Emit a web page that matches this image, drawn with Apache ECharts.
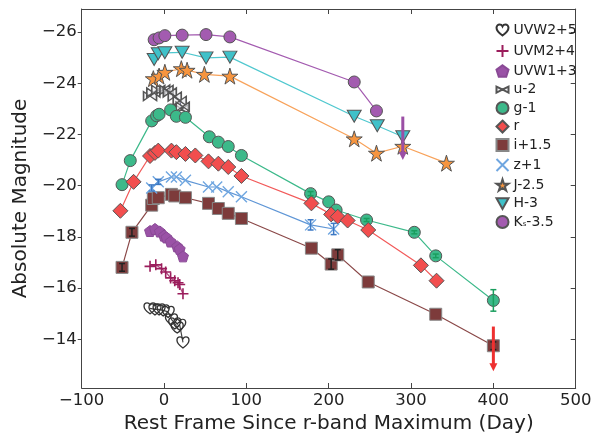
<!DOCTYPE html>
<html><head><meta charset="utf-8">
<script src="https://cdn.jsdelivr.net/npm/echarts@6/dist/echarts.min.js"></script>
<style>html,body{margin:0;padding:0;background:#fff}#c{width:615px;height:439px}</style>
</head><body><div id="c"></div>
<script>
// ---- data (rest-frame days since r-band maximum, absolute magnitude incl. offsets) ----
const uvw2Days = [-17,-11,-6,-1,5,9,13,16,19,23];
const uvw2Mag  = [-15.21,-15.17,-15.17,-15.13,-15.07,-14.78,-14.62,-14.46,-14.57,-13.88];
const uvm2Days = [-17,-10,-3,2,8,13,17,19,23];
const uvm2Mag  = [-16.85,-16.91,-16.76,-16.63,-16.40,-16.29,-16.21,-16.14,-15.78];
const uvw1Days = [-17,-11,-5,0,3,8,16,19,23];
const uvw1Mag  = [-18.23,-18.31,-18.21,-18.05,-17.98,-17.82,-17.63,-17.53,-17.24];
const uDays = [-17,-13,-7,-1,3,7,13,19,21.5,22.7];
const uMag  = [-23.50,-23.64,-23.74,-23.76,-23.74,-23.64,-23.48,-23.31,-22.99,-23.09];
const gDays = [-51,-41,-15,-9,-6,8,15,26,55,66,78,94,178,200,209,246,304,330,400];
const gMag  = [-20.04,-20.98,-22.53,-22.73,-22.79,-22.96,-22.71,-22.67,-21.91,-21.70,-21.53,-21.18,-19.69,-19.37,-19.05,-18.66,-18.18,-17.26,-15.52];
const rDays = [-53,-37,-17,-11,-7,9,15,26,38,54,66,78,94,179,203,211,223,248,312,331];
const rMag  = [-19.02,-20.15,-21.16,-21.28,-21.37,-21.37,-21.31,-21.24,-21.18,-20.95,-20.86,-20.73,-20.38,-19.31,-18.88,-18.79,-18.64,-18.27,-16.89,-16.29];
const iDays = [-51,-39,-15,-13,-7,9,13,26,54,66,78,94,179,203,211,248,330,400];
const iMag  = [-16.81,-18.18,-19.24,-19.50,-19.53,-19.66,-19.60,-19.53,-19.31,-19.11,-18.92,-18.72,-17.56,-16.94,-17.30,-16.24,-14.98,-13.75];
const zDays = [-15,-7,9,15,26,54,64,78,94,178,206];
const zMag  = [-19.91,-20.15,-20.34,-20.34,-20.21,-19.95,-19.95,-19.76,-19.57,-18.47,-18.31];
const jDays = [-13,-6,1,21,28,49,80,231,258,290,343];
const jMag  = [-24.18,-24.28,-24.43,-24.57,-24.51,-24.35,-24.28,-21.83,-21.27,-21.54,-20.88];
const hDays = [-12,-7,1,22,51,80,231,259,290];
const hMag  = [-24.93,-25.15,-25.19,-25.21,-24.99,-25.02,-22.71,-22.34,-21.91];
const kDays = [-12,-6,1,22,51,80,231,258];
const kMag  = [-25.70,-25.77,-25.86,-25.88,-25.90,-25.81,-24.05,-22.92];
// upper limits (day, magnitude limit)
const kLimit = [290, -22.7];
const rLimit = [400, -14.5];
// error bars (day, mag, error)
const gErr = [[400,-15.52,0.42],[178,-19.69,0.08],[246,-18.66,0.06],[304,-18.18,0.06],[330,-17.26,0.07]];
const zErr = [[178,-18.47,0.2],[206,-18.31,0.22],[-15,-19.91,0.12],[-7,-20.15,0.1]];
const iErr = [[203,-16.94,0.2],[211,-17.30,0.2],[-39,-18.18,0.15],[-51,-16.81,0.15],[400,-13.75,0.15]];
const legendNames = ['UVW2+5','UVM2+4','UVW1+3','u-2','g-1','r','i+1.5','z+1','J-2.5','H-3','Ks-3.5'];
const yTicks = [-26,-24,-22,-20,-18,-16,-14];

const STAR = 'path://M50,0L61.23,34.55L97.55,34.55L68.17,55.9L79.39,90.45L50,69.1L20.61,90.45L31.83,55.9L2.45,34.55L38.77,34.55Z';
const PENT = 'path://M50,0L97.55,34.55L79.39,90.45L20.61,90.45L2.45,34.55Z';
const HEART = 'path://M5,9.2C5,9.2 0,5.8 0,2.8C0,1.2 1.2,0 2.6,0C3.6,0 4.5,0.6 5,1.6C5.5,0.6 6.4,0 7.4,0C8.8,0 10,1.2 10,2.8C10,5.8 5,9.2 5,9.2Z';
const PLUS = 'path://M0,5L10,5M5,0L5,10';
const XMARK = 'path://M0,0L10,10M10,0L0,10';
const BOWTIE = 'path://M0,0L10,5L0,10ZM20,0L10,5L20,10Z';

function pts(d, m){ return d.map((x,i)=>[x,m[i]]); }
function mk(name, d, m, o){
  return {
    name, type:'line', data: pts(d,m), xAxisIndex:0, yAxisIndex:0,
    lineStyle:{width:1.2, color:o.line||o.color},
    itemStyle:{color:o.color, borderColor:o.edge||'#555', borderWidth:o.bw||1},
    symbol:o.symbol, symbolSize:o.size, symbolRotate:o.rot||0,
    emphasis:{disabled:true}, animation:false, z:2
  };
}
const series = [
  mk('UVW2+5', uvw2Days, uvw2Mag, {symbol:HEART, size:[12,11], color:'none', edge:'#333', bw:1.3, line:'#444'}),
  mk('UVM2+4', uvm2Days, uvm2Mag, {symbol:PLUS, size:11, color:'none', edge:'#9b1d5c', bw:1.6, line:'#b04a80'}),
  mk('UVW1+3', uvw1Days, uvw1Mag, {symbol:PENT, size:11, color:'#9a52a6', edge:'#8a4a96', line:'#9a52a6'}),
  mk('u-2', uDays, uMag, {symbol:BOWTIE, size:[13,9], color:'rgba(235,235,240,0.6)', edge:'#555', bw:1.4, line:'#6a6a8a'}),
  mk('g-1', gDays, gMag, {symbol:'circle', size:12, color:'#3cb98a', line:'#3cb98a'}),
  mk('r', rDays, rMag, {symbol:'diamond', size:15, color:'#f24e4e', line:'#f25a5a'}),
  mk('i+1.5', iDays, iMag, {symbol:'rect', size:12, color:'#7d3b3b', edge:'#888', line:'#8a4848'}),
  mk('z+1', zDays, zMag, {symbol:XMARK, size:11, color:'none', edge:'#6fa6e0', bw:1.4, line:'#5f96d6'}),
  mk('J-2.5', jDays, jMag, {symbol:STAR, size:16, color:'#f7953f', line:'#f8a25a'}),
  mk('H-3', hDays, hMag, {symbol:'triangle', rot:180, size:[14,12], color:'#3fc1c9', line:'#50c8cf'}),
  mk('Ks-3.5', kDays, kMag, {symbol:'circle', size:12, color:'#a35bb0', line:'#a35bb0'})
];

function errSeries(data, color){
  return {
    type:'custom', xAxisIndex:0, yAxisIndex:0, data, animation:false, z:5, silent:true,
    renderItem(params, api){
      const x = api.value(0), y = api.value(1), e = api.value(2);
      const a = api.coord([x, y-e]), b = api.coord([x, y+e]);
      const st = {stroke:color, lineWidth:1.5};
      return {type:'group', children:[
        {type:'line', shape:{x1:a[0],y1:a[1],x2:b[0],y2:b[1]}, style:st},
        {type:'line', shape:{x1:a[0]-3,y1:a[1],x2:a[0]+3,y2:a[1]}, style:st},
        {type:'line', shape:{x1:b[0]-3,y1:b[1],x2:b[0]+3,y2:b[1]}, style:st}
      ]};
    }
  };
}
function arrowSeries(lim, len, color){
  return {
    type:'custom', xAxisIndex:0, yAxisIndex:0, data:[[lim[0], lim[1], len]], animation:false, z:6, silent:true,
    renderItem(params, api){
      const x = api.value(0), y = api.value(1), l = api.value(2);
      const a = api.coord([x, y]), b = api.coord([x, y+l]);
      return {type:'group', children:[
        {type:'line', shape:{x1:a[0],y1:a[1],x2:b[0],y2:b[1]-7}, style:{stroke:color, lineWidth:3}},
        {type:'polygon', shape:{points:[[b[0]-4,b[1]-8],[b[0]+4,b[1]-8],[b[0],b[1]]]}, style:{fill:color}}
      ]};
    }
  };
}
series.push(errSeries(gErr, '#1a9e5e'));
series.push(errSeries(zErr, '#3b78c4'));
series.push(errSeries(iErr, '#222'));
series.push(arrowSeries(kLimit, 1.7, '#9b4fa5'));
series.push(arrowSeries(rLimit, 1.75, '#ee3030'));

const minus = v => v < 0 ? '\u2212' + Math.abs(v) : String(v);
const FONT = 'DejaVu Sans';
const icons = [HEART, PLUS, PENT, BOWTIE, 'circle', 'diamond', 'rect', XMARK, STAR, 'path://M0,0L10,0L5,9Z', 'circle'];
const axLine = {onZero:false, lineStyle:{color:'#444', width:1}};

const chart = echarts.init(document.getElementById('c'), null, {renderer:'canvas'});
chart.setOption({
  backgroundColor:'#fff',
  textStyle:{fontFamily:FONT},
  grid:{left:81.7, right:39.3, top:9, bottom:48.3},
  legend:{
    orient:'vertical', left:489, top:17, itemWidth:12, itemHeight:12, itemGap:4.5,
    data: legendNames.map((n,i)=>({name:n, icon:icons[i]})),
    textStyle:{fontFamily:FONT, fontSize:14, color:'#222', rich:{s:{fontSize:7, fontFamily:FONT, color:'#222', padding:[5,0,0,0]}}},
    formatter: n => n === 'Ks-3.5' ? 'K{s|s}-3.5' : n,
    selectedMode:false
  },
  xAxis:[
    {type:'value', min:-100, max:500, interval:100, position:'bottom',
     name:'Rest Frame Since r-band Maximum (Day)', nameLocation:'middle', nameGap:26,
     nameTextStyle:{fontFamily:FONT, fontSize:20, color:'#222'},
     axisLine:axLine,
     axisTick:{inside:true, length:5, lineStyle:{color:'#444'}},
     axisLabel:{formatter:minus, fontFamily:FONT, fontSize:16.5, color:'#222', margin:4},
     splitLine:{show:false}},
    {type:'value', min:-100, max:500, interval:100, position:'top',
     axisLine:axLine,
     axisTick:{inside:true, length:5, lineStyle:{color:'#444'}},
     axisLabel:{show:false}, splitLine:{show:false}}
  ],
  yAxis:[
    {type:'value', min:-26.9, max:-12.1, inverse:true, position:'left',
     name:'Absolute Magnitude', nameLocation:'middle', nameGap:45, nameRotate:90,
     nameTextStyle:{fontFamily:FONT, fontSize:20, color:'#222'},
     axisLine:axLine,
     axisTick:{inside:false, length:4, customValues:yTicks, lineStyle:{color:'#444'}},
     axisLabel:{formatter:minus, customValues:yTicks, fontFamily:FONT, fontSize:16.5, color:'#222', margin:5},
     splitLine:{show:false}},
    {type:'value', min:-26.9, max:-12.1, inverse:true, position:'right',
     axisLine:axLine,
     axisTick:{inside:true, length:5, customValues:yTicks, lineStyle:{color:'#444'}},
     axisLabel:{show:false, customValues:yTicks}, splitLine:{show:false}}
  ],
  series
});
</script></body></html>
